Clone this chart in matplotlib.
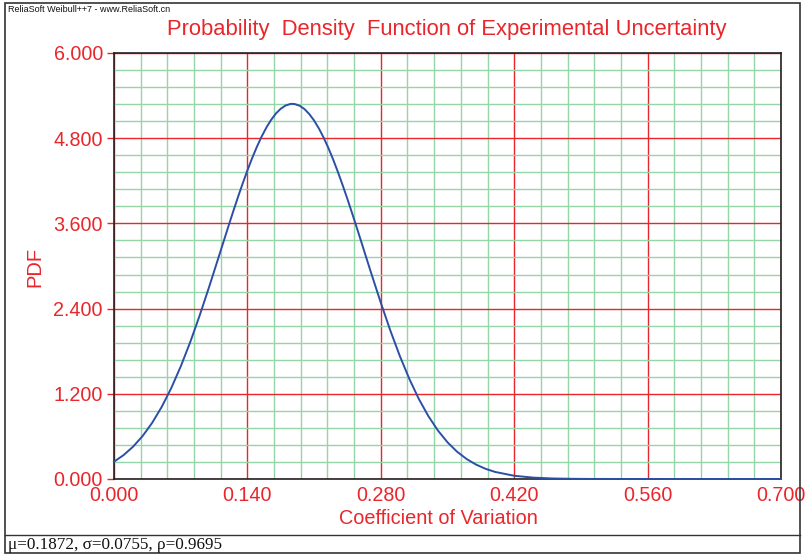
import matplotlib
matplotlib.use("Agg")
import matplotlib.pyplot as plt
from matplotlib.patches import Rectangle
from matplotlib.lines import Line2D
from matplotlib.ticker import MultipleLocator

# curve
cov = [0.00, 0.01, 0.02, 0.03, 0.04, 0.05, 0.06, 0.07, 0.08, 0.09,
       0.10, 0.11, 0.12, 0.125, 0.13, 0.135, 0.14, 0.145, 0.15, 0.155,
       0.16, 0.165, 0.17, 0.175, 0.18, 0.185, 0.1872, 0.19, 0.195, 0.20,
       0.205, 0.21, 0.215, 0.22, 0.225, 0.23, 0.235, 0.24, 0.245, 0.25,
       0.255, 0.26, 0.27, 0.28, 0.29, 0.30, 0.31, 0.32, 0.33, 0.34,
       0.35, 0.36, 0.37, 0.38, 0.39, 0.40, 0.42, 0.44, 0.46, 0.48,
       0.50, 0.55, 0.60, 0.70]
pdf = [0.244, 0.336, 0.455, 0.605, 0.790, 1.014, 1.278, 1.584, 1.928, 2.307,
       2.712, 3.133, 3.556, 3.764, 3.966, 4.161, 4.346, 4.520, 4.680, 4.825,
       4.952, 5.060, 5.149, 5.215, 5.260, 5.282, 5.284, 5.280, 5.256, 5.209,
       5.139, 5.049, 4.938, 4.808, 4.662, 4.500, 4.324, 4.137, 3.942, 3.739,
       3.531, 3.320, 2.896, 2.483, 2.091, 1.731, 1.408, 1.125, 0.884, 0.682,
       0.517, 0.385, 0.282, 0.203, 0.143, 0.0995, 0.0455, 0.0194, 0.0077, 0.0029,
       0.001, 0.0001, 0.0, 0.0]

x_ticks = [0.0, 0.14, 0.28, 0.42, 0.56, 0.70]
y_ticks = [0.0, 1.2, 2.4, 3.6, 4.8, 6.0]

red = '#e8262b'
green = '#94d6a8'
blue = '#2c4fa6'

plt.rcParams['font.family'] = ['Liberation Sans', 'DejaVu Sans']

fig = plt.figure(figsize=(8.05, 5.57), dpi=100)
ax = fig.add_axes([114/805, 1-479/557, (781-114)/805, (479-53)/557])

ax.plot(cov, pdf, color=blue, lw=1.4, clip_on=False, zorder=5)

ax.set_xlim(0, 0.7)
ax.set_ylim(0, 6.0)
ax.set_xticks(x_ticks)
ax.set_yticks(y_ticks)
ax.xaxis.set_minor_locator(MultipleLocator(0.028))
ax.yaxis.set_minor_locator(MultipleLocator(0.24))
ax.set_xticklabels([f'{v:.3f}' for v in x_ticks])
ax.set_yticklabels([f'{v:.3f}' for v in y_ticks])
ax.tick_params(axis='both', which='major', colors=red, labelsize=14.2,
               length=5, width=1)
ax.tick_params(axis='x', which='major', length=0, pad=5)
ax.tick_params(axis='y', which='major', pad=3)
ax.tick_params(which='minor', length=0)

ax.grid(which='minor', color=green, lw=1.0, zorder=0)
ax.grid(which='major', color=red, lw=1.0, zorder=1)
ax.set_axisbelow(True)
for s in ax.spines.values():
    s.set_color('#222222')
    s.set_linewidth(1.2)

fig.text(447/805, 1-30/557, 'Probability  Density  Function of Experimental Uncertainty',
         color=red, fontsize=15.8, ha='center', va='center')
fig.text(438/805, 1-519/557, 'Coefficient of Variation', color=red,
         fontsize=14.3, ha='center', va='center')
fig.text(35/805, 1-267/557, 'PDF', color=red, fontsize=14.5,
         ha='center', va='center', rotation=90)
fig.text(8/805, 1-10/557, 'ReliaSoft Weibull++7 - www.ReliaSoft.cn',
         color='#111111', fontsize=6.5, ha='left', va='center')
fig.text(8/805, 1-545/557, 'μ=0.1872, σ=0.0755, ρ=0.9695',
         family=['Liberation Serif', 'DejaVu Serif'], color='#111111',
         fontsize=12.3, ha='left', va='center')

# outer frame and footer separator
fig.add_artist(Rectangle((5/805, 1-553/557), 795/805, 550/557,
                         transform=fig.transFigure, fill=False,
                         ec='#333333', lw=1.2))
fig.add_artist(Line2D([5/805, 800/805], [1-535/557, 1-535/557],
                      transform=fig.transFigure, color='#333333', lw=1.0))

fig.savefig('out.png', dpi=100)
